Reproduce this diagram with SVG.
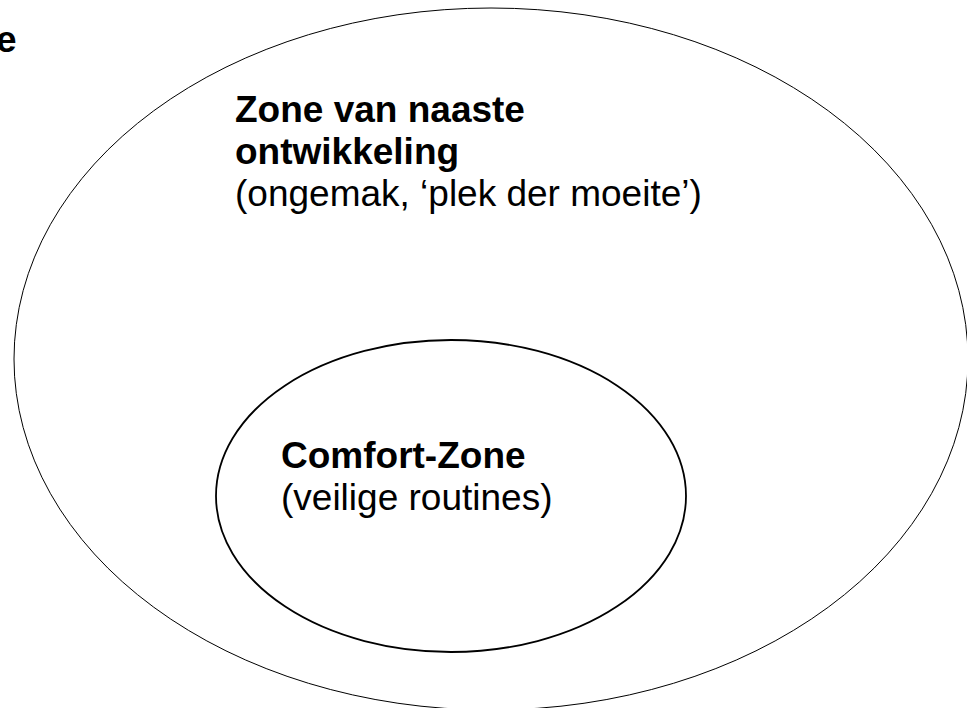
<svg xmlns="http://www.w3.org/2000/svg" width="967" height="708" viewBox="0 0 967 708">
<style>
.b{font-family:"Liberation Sans",Arial,sans-serif;font-weight:bold;font-size:37px;fill:#000}
.r{font-family:"Liberation Sans",Arial,sans-serif;font-size:37px;fill:#000}
</style>
<rect width="967" height="708" fill="#fff"/>
<text class="b" x="-4" y="52">e</text>
<g id="outer">
<ellipse cx="491" cy="359" rx="477" ry="351" fill="none" stroke="#000" stroke-width="1"/>
<text class="b" x="235" y="122">Zone van naaste</text>
<text class="b" x="235" y="164">ontwikkeling</text>
<text class="r" x="235" y="206">(ongemak, ‘plek der moeite’)</text>
</g>
<g id="inner">
<ellipse cx="451" cy="496" rx="235" ry="156" fill="none" stroke="#000" stroke-width="1.8"/>
<text class="b" x="281" y="468">Comfort-Zone</text>
<text class="r" x="281" y="510">(veilige routines)</text>
</g>
<g id="connectors"/>
</svg>
